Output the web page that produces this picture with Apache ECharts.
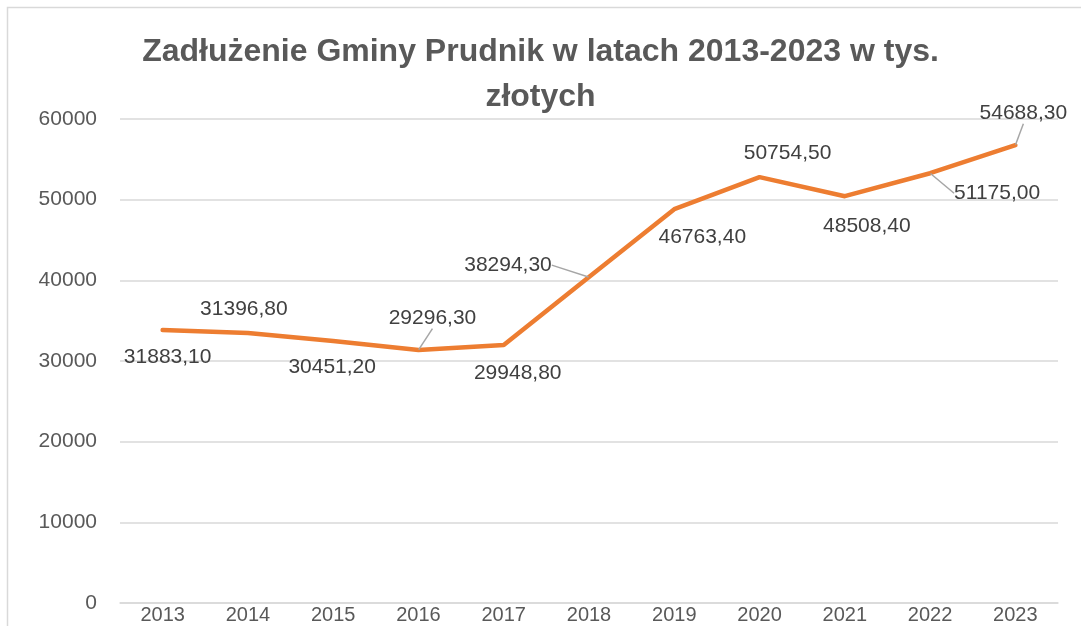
<!DOCTYPE html>
<html>
<head>
<meta charset="utf-8">
<script src="https://cdn.jsdelivr.net/npm/echarts@6/dist/echarts.min.js"></script>
<style>html,body{margin:0;padding:0;background:#fff}#c{width:1081px;height:626px}</style>
</head>
<body>
<div id="c"></div>
<script>
const titleText = 'Zadłużenie Gminy Prudnik w latach 2013-2023 w tys.\nzłotych';
const years = ['2013','2014','2015','2016','2017','2018','2019','2020','2021','2022','2023'];
// line heights as drawn in the picture
const plotted = [33830, 33460, 32470, 31350, 31970, 40400, 48820, 52790, 50430, 53280, 56750];
// data label texts as printed
const labelTexts = ['31883,10','31396,80','30451,20','29296,30','29948,80','38294,30','46763,40','50754,50','48508,40','51175,00','54688,30'];
const yTicks = {min: 0, max: 60000, interval: 10000};

const labelShift = [[5,27],[-4,-24],[-1,26],[14,-32],[14,28],[-81,-12],[28,28],[28,-24],[22,30],[67,20],[8,-32]];
const withLeader = [false,false,false,true,false,true,false,false,false,true,true];

const chart = echarts.init(document.getElementById('c'), null, {renderer:'canvas'});
chart.setOption({
  animation: false,
  backgroundColor: '#fff',
  title: {
    text: titleText,
    left: 'center',
    top: 25,
    padding: [5, 5, 5, 31],
    textStyle: {fontFamily: 'Liberation Sans', fontWeight: 'bold', fontSize: 32, color: '#595959', lineHeight: 45}
  },
  graphic: [{
    type: 'rect', shape: {x: 7.5, y: 7.5, width: 1200, height: 800},
    style: {fill: 'none', stroke: '#d9d9d9', lineWidth: 1.5}, silent: true, z: -1
  }],
  grid: {left: 120, right: 23, top: 119, bottom: 23, containLabel: false},
  xAxis: {
    type: 'category', data: years, boundaryGap: true,
    axisLine: {show: true, lineStyle: {color: '#d9d9d9', width: 1.5}},
    axisTick: {show: false},
    axisLabel: {color: '#595959', fontSize: 20, fontFamily: 'Liberation Sans', margin: 2}
  },
  yAxis: {
    type: 'value', min: yTicks.min, max: yTicks.max, interval: yTicks.interval,
    axisLine: {show: false}, axisTick: {show: false},
    axisLabel: {color: '#595959', fontSize: 21, fontFamily: 'Liberation Sans', margin: 23, formatter: v => String(v)},
    splitLine: {lineStyle: {color: '#d9d9d9', width: 1.5}}
  },
  series: [{
    type: 'line',
    data: plotted.map((v, i) => ({
      value: v,
      label: {formatter: labelTexts[i]},
      labelLine: {show: withLeader[i]}
    })),
    symbol: 'circle', symbolSize: 1, showSymbol: true,
    itemStyle: {color: 'rgba(0,0,0,0)'},
    lineStyle: {color: '#ED7D31', width: 4.5, cap: 'round', join: 'round'},
    label: {show: true, position: 'inside', color: '#404040', fontSize: 21, fontFamily: 'Liberation Sans'},
    labelLine: {show: false, lineStyle: {color: '#a6a6a6', width: 1.5}},
    labelLayout: function (p) {
      const s = labelShift[p.dataIndex];
      return {dx: s[0], dy: s[1]};
    }
  }]
});
</script>
</body>
</html>
